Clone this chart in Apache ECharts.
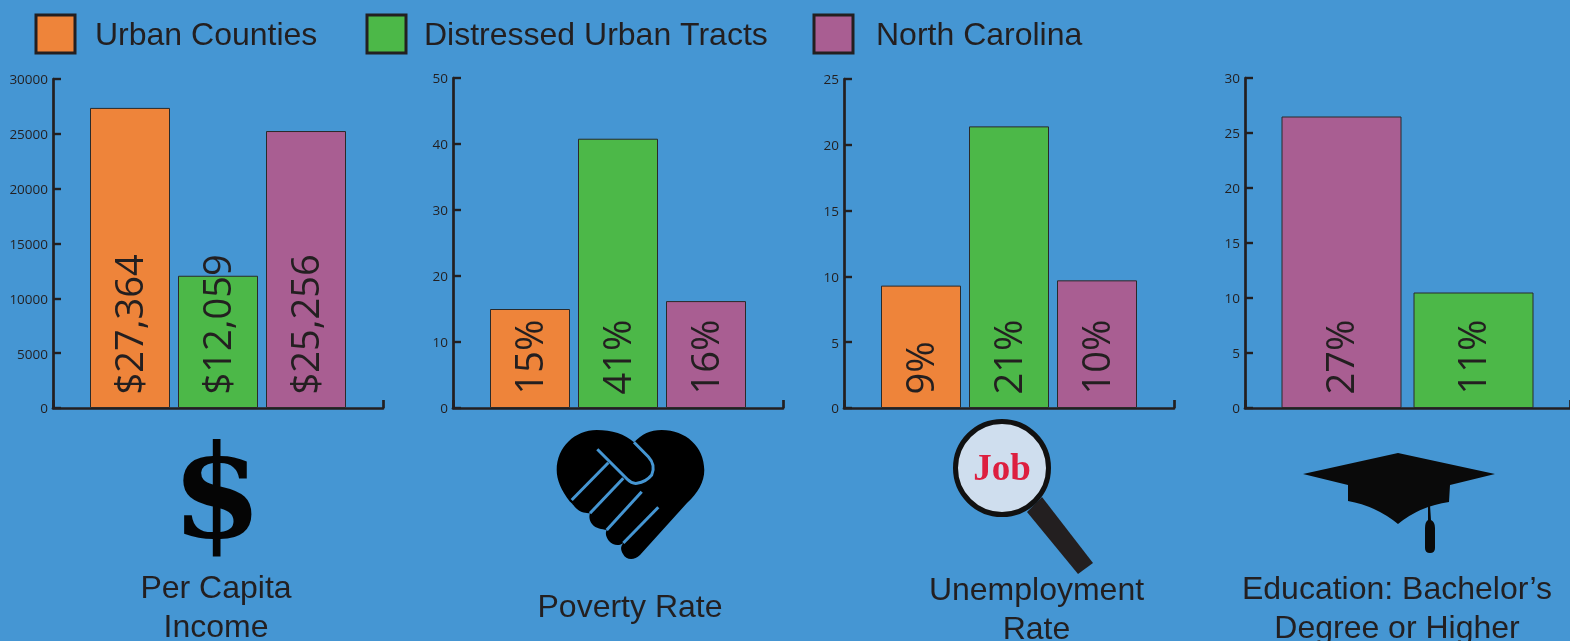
<!DOCTYPE html>
<html>
<head>
<meta charset="utf-8">
<style>html,body{margin:0;padding:0;background:#4596d3}#c{width:1570px;height:641px}</style>
<script src="https://cdn.jsdelivr.net/npm/echarts@6/dist/echarts.min.js"></script>
</head>
<body>
<div id="c"></div>
<script>
// data
const seriesNames = ['Urban Counties', 'Distressed Urban Tracts', 'North Carolina'];
const incomeValues = [27364, 12059, 25256];
const povertyValues = [15.0, 40.8, 16.2];
const unemploymentValues = [9.3, 21.4, 9.7];
const educationValues = [26.5, 10.5]; // North Carolina, Distressed Urban Tracts
const panelCaptions = ['Per Capita\nIncome', 'Poverty Rate', 'Unemployment\nRate', 'Education: Bachelor\u2019s\nDegree or Higher'];
const axisMaxima = [30000, 50, 25, 30];
const axisSteps = [5000, 10, 5, 5];

const INK = '#231f20';
const COLORS = {'Urban Counties': '#ee843a', 'Distressed Urban Tracts': '#4cb848', 'North Carolina': '#a95e92'};
const BG = '#4596d3';

const money = v => '$' + v.toLocaleString('en-US');
const pct = v => Math.round(v) + '%';

const panels = [
  {left: 53,   top: 79, h: 329, w: 330, bw: 80,  gap: '10%', names: seriesNames, values: incomeValues, fmt: money, capX: 211, capY: 565},
  {left: 453,  top: 78, h: 330, w: 330, bw: 80,  gap: '10%', names: seriesNames, values: povertyValues, fmt: pct, capX: 625, capY: 584},
  {left: 844,  top: 79, h: 329, w: 330, bw: 80,  gap: '10%', names: seriesNames, values: unemploymentValues, fmt: pct, capX: 1031.5, capY: 567},
  {left: 1245, top: 78, h: 330, w: 332, bw: 120, gap: '10%', names: [seriesNames[2], seriesNames[1]], values: educationValues, fmt: pct, capX: 1392, capY: 566}
];

const grid = [], xAxis = [], yAxis = [], series = [], title = [];
panels.forEach((p, i) => {
  grid.push({left: p.left, top: p.top, width: p.w, height: p.h, containLabel: false});
  xAxis.push({
    type: 'category', gridIndex: i, data: [panelCaptions[i]],
    axisLine: {lineStyle: {color: INK, width: 2.7}},
    axisTick: {show: true, inside: true, length: 8, lineStyle: {color: INK, width: 2.7}},
    axisLabel: {show: false}, splitLine: {show: false}
  });
  yAxis.push({
    type: 'value', gridIndex: i, min: 0, max: axisMaxima[i], interval: axisSteps[i],
    axisLine: {show: true, lineStyle: {color: INK, width: 2.7}},
    axisTick: {show: true, inside: true, length: 8, lineStyle: {color: INK, width: 2.4}},
    axisLabel: {
      show: true, margin: 5, formatter: v => '{t|' + v + '}',
      rich: {t: {color: INK, fontFamily: 'Open Sans', fontSize: 13.5, padding: [3, 0, 0, 0]}}
    },
    splitLine: {show: false}
  });
  p.names.forEach((name, k) => {
    series.push({
      type: 'bar', name, xAxisIndex: i, yAxisIndex: i,
      data: [p.values[k]], barWidth: p.bw, barGap: p.gap,
      itemStyle: {color: COLORS[name], borderColor: '#2a2a2a', borderWidth: 1},
      label: {
        show: true, position: 'insideBottom', distance: 13.5, rotate: 90,
        align: 'left', verticalAlign: 'middle', offset: [0, 2],
        color: INK, fontFamily: 'Open Sans', fontSize: 38,
        formatter: o => p.fmt(o.value)
      },
      emphasis: {disabled: true}, animation: false
    });
  });
  title.push({
    text: panelCaptions[i], left: p.capX, top: p.capY, textAlign: 'center',
    textStyle: {color: INK, fontFamily: 'Liberation Sans', fontWeight: 'normal', fontSize: 32, lineHeight: 39}
  });
});

let shapeId = 0;
function shapeType(d) {
  const name = 'decor' + (shapeId++);
  echarts.graphic.registerShape(name, echarts.graphic.extendPath(d, {}));
  return name;
}
const icon = (d, fill) => ({type: shapeType(d), style: {fill}, silent: true});
const stroke = (d) => ({type: shapeType(d), style: {fill: null, stroke: BG, lineWidth: 3}, silent: true});

const graphic = [
  // dollar sign
  {type: 'text', x: 217, y: 503, silent: true, style: {text: '$', fill: '#050505', font: 'bold 130px "DejaVu Serif"', textAlign: 'center', textVerticalAlign: 'middle'}},
  // handshake heart
  icon('M704.3,470 C704.3,482 698,493 687,503 L640,555 C634,561 626,560 623,554 C620,549 621,546 623.3,543 C620,546 613,546 609,541 C606,537 605,533 606.7,530 C602,529 596,529 592,524 C589,520 589,516 590,513.3 C586,513 581,513 577,509 C573,505 572,503 570,501.7 C561,490 556.7,480 556.7,470 C556.7,447 575,430 596.7,430 C612,430 625,434 634,442.3 C642,434 650,430 661.7,430 C686,430 704.3,447 704.3,470 Z', '#000'),
  stroke('M597.3,449.3 L627.3,479.3 Q632,484 637,483.3 Q646,482 651.7,475 Q656,465 648.3,456.7 L634,442.3'),
  stroke('M608.3,462.7 L571.7,500'),
  stroke('M623.3,478.3 L590,513.3'),
  stroke('M641.7,491.7 L606.7,530'),
  stroke('M658.3,507.3 L623.3,543'),
  // magnifier
  icon('M1042,497 L1093,563 L1078,574 L1027,512 Z', INK),
  {type: 'circle', shape: {cx: 1002, cy: 468, r: 46.5}, style: {fill: '#cfdeee', stroke: '#111', lineWidth: 5}, silent: true},
  {type: 'text', x: 1002, y: 470, silent: true, style: {text: 'Job', fill: '#dd1f3f', font: 'bold 37px "Liberation Serif"', textAlign: 'center', textVerticalAlign: 'middle'}},
  // mortarboard
  icon('M1303,474 L1398,453 L1495,474 L1450,485 L1449,502 Q1420,506 1398,524 Q1376,506 1348,501 L1348,485 Z', '#0a0a0a'),
  icon('M1428,505 L1430,505 L1431,520 Q1435,522 1435,528 L1435,548 Q1435,553 1430,553 Q1425,553 1425,548 L1425,528 Q1425,522 1428,520 Z', '#0a0a0a')
];

const legendLefts = [34.5, 365.5, 812.5];
const legendTextGaps = [15, 13, 18];
const legend = seriesNames.map((name, i) => ({
  show: true, left: legendLefts[i], top: 13.5, padding: 0, itemWidth: 39, itemHeight: 38,
  selectedMode: false, icon: 'rect',
  itemStyle: {borderColor: INK, borderWidth: 3},
  formatter: n => '{n|' + n + '}',
  textStyle: {
    rich: {n: {color: INK, fontFamily: 'Liberation Sans', fontSize: 32, padding: [4, 0, 0, legendTextGaps[i]]}}
  },
  data: [name]
}));

const chart = echarts.init(document.getElementById('c'), null, {renderer: 'canvas'});
chart.setOption({
  backgroundColor: BG,
  animation: false,
  title, legend, grid, xAxis, yAxis, series, graphic
});
</script>
</body>
</html>
